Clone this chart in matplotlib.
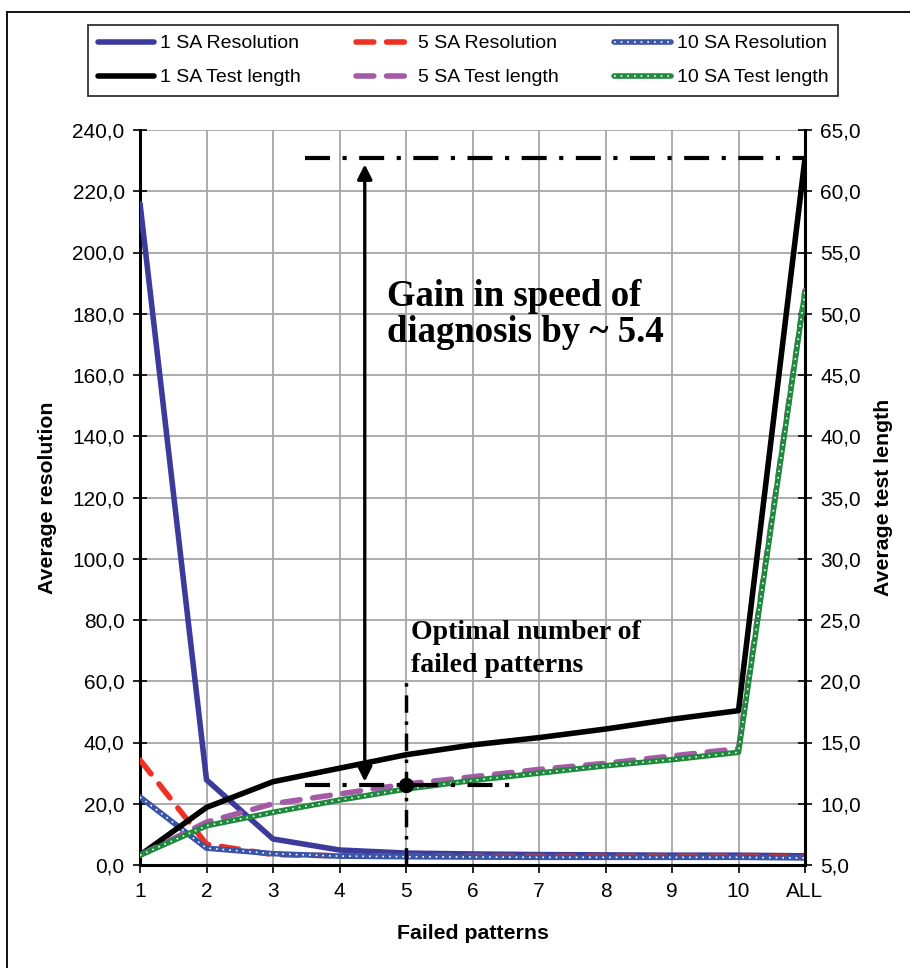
import matplotlib
matplotlib.use("Agg")
import matplotlib.pyplot as plt
from matplotlib.lines import Line2D
from matplotlib.patches import FancyArrowPatch
from matplotlib.ticker import FuncFormatter, MultipleLocator
import numpy as np

categories = ["1", "2", "3", "4", "5", "6", "7", "8", "9", "10", "ALL"]

res_1sa = [216.0, 27.8, 8.5, 4.9, 3.9, 3.6, 3.4, 3.3, 3.2, 3.2, 3.0]
res_5sa = [34.3, 6.8, 3.4, 3.0, 2.9, 2.9, 2.8, 2.8, 2.8, 2.8, 2.5]
res_10sa = [22.2, 5.5, 3.7, 2.9, 2.7, 2.6, 2.5, 2.5, 2.5, 2.5, 2.3]

tl_1sa = [5.8, 9.7, 11.8, 12.9, 14.0, 14.8, 15.4, 16.1, 16.9, 17.6, 62.7]
tl_5sa = [5.8, 8.5, 10.0, 10.8, 11.6, 12.2, 12.8, 13.3, 13.9, 14.5, 51.9]
tl_10sa = [5.8, 8.2, 9.3, 10.3, 11.2, 11.9, 12.5, 13.1, 13.6, 14.2, 51.8]

plt.rcParams['font.family'] = ['Liberation Sans', 'DejaVu Sans']

fig = plt.figure(figsize=(9.10, 9.68), dpi=100)
ax = fig.add_axes([140/910, 1-865/968, 665/910, 735/968])
ax2 = ax.twinx()

x = np.arange(len(categories))

lw = 4.0
blue = "#3b3b9b"
red = "#ee3124"
purple = "#a55aa8"
green = "#1f8a3e"
dblue = "#3a55a8"

# resolution (left axis)
l1r, = ax.plot(x, res_1sa, color=blue, lw=lw, zorder=3, solid_capstyle='round')
l5r, = ax.plot(x, res_5sa, color=red, lw=lw, dashes=(3.2, 2.3), dash_capstyle='round', zorder=3)
l10r_a, = ax.plot(x, res_10sa, color=dblue, lw=lw, zorder=4, solid_capstyle='round')
l10r_b, = ax.plot(x, res_10sa, color="white", lw=1.2, dashes=(1, 3), zorder=4)

# test length (right axis)
l1t, = ax2.plot(x, tl_1sa, color="black", lw=lw, zorder=3, solid_capstyle='round')
l5t, = ax2.plot(x, tl_5sa, color=purple, lw=lw, dashes=(3.2, 2.3), dash_capstyle='round', zorder=3)
l10t_a, = ax2.plot(x, tl_10sa, color=green, lw=lw, zorder=4, solid_capstyle='round')
l10t_b, = ax2.plot(x, tl_10sa, color="white", lw=1.2, dashes=(1, 3), zorder=4)

ax.set_xlim(0, len(categories) - 1)
ax.set_ylim(0, 240)
ax2.set_ylim(5, 65)
ax.yaxis.set_major_locator(MultipleLocator(20))
ax2.yaxis.set_major_locator(MultipleLocator(5))
fmt = FuncFormatter(lambda v, p: f"{v:.1f}".replace(".", ","))
ax.yaxis.set_major_formatter(fmt)
ax2.yaxis.set_major_formatter(fmt)
ax.set_xticks(x)
ax.set_xticklabels(categories)

ax.grid(True, color="#a6a6a6", lw=1.3)
ax.set_axisbelow(True)
for a in (ax, ax2):
    for s in a.spines.values():
        s.set_visible(False)
ax.spines['left'].set_visible(True)
ax.spines['bottom'].set_visible(True)
ax2.spines['right'].set_visible(True)
for sp in (ax.spines['left'], ax.spines['bottom'], ax2.spines['right']):
    sp.set_linewidth(2.2)
    sp.set_color("black")

fs = 15
ax.tick_params(axis='both', direction='inout', length=10, width=1.2, labelsize=fs, pad=6)
ax2.tick_params(axis='y', direction='inout', length=10, width=1.2, labelsize=fs, pad=6)
ax.tick_params(axis='x', direction='out', length=6, pad=6)

ax.set_ylabel("Average resolution", fontsize=15.3, fontweight='bold', labelpad=11)
ax2.set_ylabel("Average test length", fontsize=15.3, fontweight='bold', labelpad=9)
ax.set_xlabel("Failed patterns", fontsize=15.3, fontweight='bold', labelpad=17)

# annotations (in right-axis coordinates; x is category index)
ax2.plot([2.48, 10], [62.7, 62.7], color="black", lw=3, dashes=(6, 3, 1, 3), zorder=5, clip_on=False)
ax2.plot([2.48, 5.56], [11.5, 11.5], color="black", lw=3, dashes=(6, 3, 1, 3), zorder=5)
ax2.plot([4, 4], [5, 20.0], color="black", lw=2.5, dashes=(5, 2.5, 1, 2.5), zorder=5, clip_on=False)
ax2.plot([4], [11.5], marker='o', color='black', markersize=10, zorder=6)
arr = FancyArrowPatch((3.38, 11.8), (3.38, 62.2), arrowstyle='<|-|>', mutation_scale=22,
                      color='black', lw=2.4, zorder=6, shrinkA=0, shrinkB=0)
ax2.add_patch(arr)

ax2.text(3.72, 47.7, "Gain in speed of\ndiagnosis by ~ 5.4", fontsize=26.5, fontweight='bold',
         family=['Liberation Serif', 'DejaVu Serif'], va='baseline', linespacing=1.05)
ax2.text(4.07, 20.75, "Optimal number of\nfailed patterns", fontsize=20, fontweight='bold',
         family=['Liberation Serif', 'DejaVu Serif'], va='baseline', linespacing=1.4)

handles = [l1r, l1t, l5r, l5t, (l10r_a, l10r_b), (l10t_a, l10t_b)]
labels = ["1 SA Resolution", "1 SA Test length", "5 SA Resolution", "5 SA Test length",
          "10 SA Resolution", "10 SA Test length"]
leg = fig.legend(handles, labels, ncol=3, loc='upper left',
                 bbox_to_anchor=(88/910, 1-25/968, 750/910, 0), mode='expand', borderaxespad=0,
                 fontsize=14, frameon=True, fancybox=False, edgecolor='black',
                 handlelength=2.9, handletextpad=0.3, borderpad=0.5, labelspacing=0.85,
                 columnspacing=2.0)
leg.get_frame().set_linewidth(1.3)

# outer frame (left and top edges visible)
fig.add_artist(Line2D([7/910, 7/910], [0, 1-12/968], color='black', lw=1.3, transform=fig.transFigure))
fig.add_artist(Line2D([7/910, 1], [1-12/968, 1-12/968], color='black', lw=1.3, transform=fig.transFigure))

fig.savefig("out.png", dpi=100)
